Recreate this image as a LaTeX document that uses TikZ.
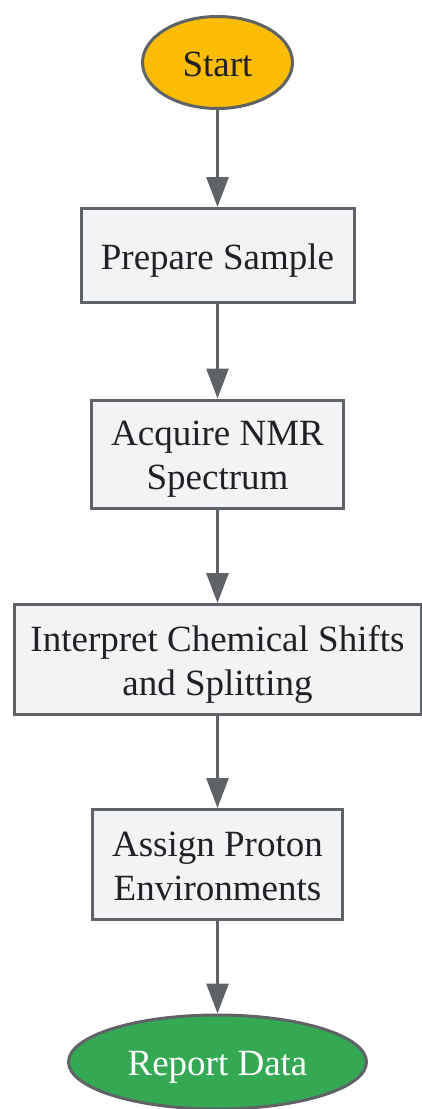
\documentclass[tikz,border=0pt]{standalone}
\usepackage{fontspec}
\setmainfont{Liberation Serif}
\usetikzlibrary{shapes.geometric,arrows.meta}
\definecolor{edgegray}{HTML}{5F6368}
\definecolor{boxfill}{HTML}{F1F3F4}
\definecolor{startfill}{HTML}{FBBC04}
\definecolor{endfill}{HTML}{34A853}
\definecolor{inkcol}{HTML}{202124}
\tikzset{
    stepbox/.style={draw=edgegray, line width=1.5pt, fill=boxfill, text=inkcol,
        inner sep=0pt, align=center, font=\fontsize{18.5}{22}\selectfont,
        text height=16pt, text depth=2.5pt},
    twolines/.style={text height=38pt, text depth=2.5pt},
    termnode/.style={ellipse, draw=edgegray, line width=1.5pt, inner sep=0pt,
        font=\fontsize{18.5}{22}\selectfont, text height=16pt, text depth=2.5pt},
    flowarrow/.style={draw=edgegray, line width=1.5pt,
        -{Triangle[width=11pt, length=15pt]}}
}
\begin{document}
\begin{tikzpicture}[x=0.5pt, y=-0.5pt]
                \useasboundingbox (0, 0) rectangle (422, 1109);
                \node (start) at (217.5, 62.5) [termnode, fill=startfill, text=inkcol,
                    minimum width=75pt, minimum height=46pt] {Start};
                \node (prepare) at (217.5, 255.5) [stepbox, minimum width=136.5pt, minimum height=47pt] {Prepare Sample};
                \node (acquire) at (217.5, 454) [stepbox, twolines, minimum width=126pt, minimum height=54pt] {Acquire NMR\\Spectrum};
                \node (interpret) at (217.5, 659.5) [stepbox, twolines, minimum width=203.5pt, minimum height=55pt] {Interpret Chemical Shifts\\and Splitting};
                \node (assign) at (217.5, 864.5) [stepbox, twolines, minimum width=125pt, minimum height=55pt] {Assign Proton\\Environments};
                \node (report) at (217.5, 1062) [termnode, fill=endfill, text=white,
                    minimum width=149pt, minimum height=47pt] {Report Data};
                \draw[flowarrow] (start) -- (prepare);
                \draw[flowarrow] (prepare) -- (acquire);
                \draw[flowarrow] (acquire) -- (interpret);
                \draw[flowarrow] (interpret) -- (assign);
                \draw[flowarrow] (assign) -- (report);
            \end{tikzpicture}
\end{document}
